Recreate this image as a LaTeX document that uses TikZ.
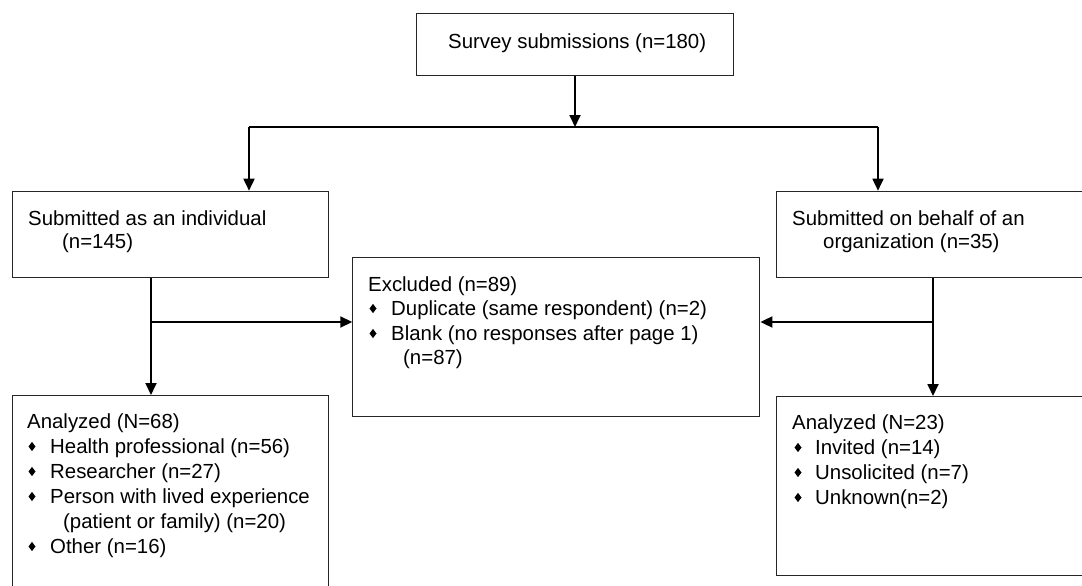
\documentclass[tikz,border=0pt]{standalone}
\usepackage{fontspec}
\setmainfont{Liberation Sans}
\usetikzlibrary{arrows.meta}
\tikzset{
  box/.style={draw=black!85, line width=1.1pt, fill=white, inner sep=0pt, anchor=north west},
  txt/.style={inner sep=0pt, anchor=base west, font=\fontsize{20.4}{24}\selectfont, text=black},
  conn/.style={line width=1.8pt, draw=black},
  arr/.style={conn, -{Triangle[width=11pt,length=12pt]}},
  bul/.style={fill=black}
}
\newcommand\bulat[2]{\fill[bul] (#1,#2-6.5) +(0,-4.6) -- +(3.5,0) -- +(0,4.6) -- +(-3.5,0) -- cycle;}
\begin{document}
\begin{tikzpicture}[x=1pt,y=-1pt]
\useasboundingbox (0,0) rectangle (1082,586);
\clip (0,0) rectangle (1082,586);
\fill[white] (0,0) rectangle (1082,586);

% boxes
\node[box, minimum width=317pt, minimum height=62.5pt] (top) at (416,12.7) {};
\node[box, minimum width=316.3pt, minimum height=86.6pt] (indiv) at (11.7,190.7) {};
\node[box, minimum width=330pt, minimum height=86.6pt] (org) at (775.7,190.7) {};
\node[box, minimum width=407pt, minimum height=159.3pt] (excl) at (352.3,256.7) {};
\node[box, minimum width=316.3pt, minimum height=220pt] (anl) at (11.7,395) {};
\node[box, minimum width=330pt, minimum height=179pt] (anr) at (775.7,396) {};

% texts
\node[txt] (t0) at (448,49) {Survey submissions (n=180)};
\node[txt] (t1) at (28,225) {Submitted as an individual};
\node[txt] (t2) at (62,248) {(n=145)};
\node[txt] (t3) at (792,225) {Submitted on behalf of an};
\node[txt] (t4) at (823,248) {organization (n=35)};

\node[txt] (e0) at (368,291) {Excluded (n=89)};
\node[txt] (e1) at (391,315) {Duplicate (same respondent) (n=2)};
\node[txt] (e2) at (391,340) {Blank (no responses after page 1)};
\node[txt] (e3) at (403,364) {(n=87)};
\bulat{373}{315}
\bulat{373}{340}

\node[txt] (l0) at (27,428) {Analyzed (N=68)};
\node[txt] (l1) at (50,453) {Health professional (n=56)};
\node[txt] (l2) at (50,478) {Researcher (n=27)};
\node[txt] (l3) at (50,503) {Person with lived experience};
\node[txt] (l4) at (63,528) {(patient or family) (n=20)};
\node[txt] (l5) at (50,553) {Other (n=16)};
\bulat{32}{453}
\bulat{32}{478}
\bulat{32}{503}
\bulat{32}{553}

\node[txt] (r0) at (792,429) {Analyzed (N=23)};
\node[txt] (r1) at (815,454) {Invited (n=14)};
\node[txt] (r2) at (815,479) {Unsolicited (n=7)};
\node[txt] (r3) at (815,504) {Unknown(n=2)};
\bulat{798}{454}
\bulat{798}{479}
\bulat{798}{504}

% connectors
\coordinate (s) at (575,127);
\coordinate (sl) at (249,127);
\coordinate (sr) at (878,127);
\coordinate (jl) at (151,322);
\coordinate (jr) at (933,322);
\draw[arr] (s |- top.south) -- (s);
\draw[conn] (sl) -- (sr);
\draw[arr] (sl) -- (sl |- indiv.north);
\draw[arr] (sr) -- (sr |- org.north);
\draw[arr] (jl |- indiv.south) -- (jl |- anl.north);
\draw[arr] (jl) -- (jl -| excl.west);
\draw[arr] (jr |- org.south) -- (jr |- anr.north);
\draw[arr] (jr) -- (jr -| excl.east);
\end{tikzpicture}
\end{document}
